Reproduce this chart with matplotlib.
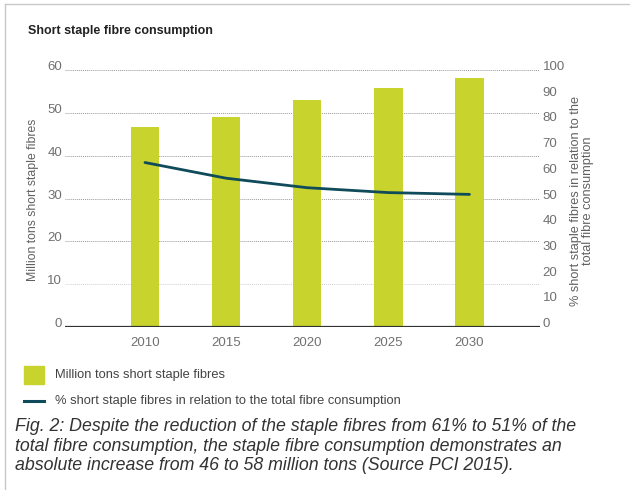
import matplotlib
matplotlib.use("Agg")
import matplotlib.pyplot as plt
from matplotlib.lines import Line2D
from matplotlib.patches import Rectangle

# Data
years = [2010, 2015, 2020, 2025, 2030]
million_tons = [46.6, 49.1, 52.9, 55.7, 58.1]
share_pct = [64.0, 57.9, 54.2, 52.3, 51.6]
left_ticks = [0, 10, 20, 30, 40, 50, 60]
right_ticks = [0, 10, 20, 30, 40, 50, 60, 70, 80, 90, 100]

bar_label = "Million tons short staple fibres"
line_label = "% short staple fibres in relation to the total fibre consumption"
title = "Short staple fibre consumption"
left_ylabel = "Million tons short staple fibres"
right_ylabel = "% short staple fibres in relation to the\ntotal fibre consumption"
caption = ("Fig. 2: Despite the reduction of the staple fibres from 61% to 51% of the\n"
           "total fibre consumption, the staple fibre consumption demonstrates an\n"
           "absolute increase from 46 to 58 million tons (Source PCI 2015).")

FONT = ["Liberation Sans", "DejaVu Sans"]

BAR_COLOR = "#c8d42d"
LINE_COLOR = "#0f4b5a"
TICK_GRAY = "#707070"
LABEL_GRAY = "#606060"
GRID_GRAY = "#9a9a9a"

W, H = 630, 490


def fx(px):
    return px / W


def fy(py):
    return 1 - py / H


fig = plt.figure(figsize=(6.3, 4.9), dpi=100)
ax = fig.add_axes([fx(65), fy(327), (540 - 65) / W, (327 - 70) / H])
ax2 = ax.twinx()

ax.set_xlim(2005.07, 2034.35)
ax.set_ylim(0, 60)
ax2.set_ylim(0, 100)

# Dotted horizontal gridlines behind the bars
for v in left_ticks[1:]:
    ax.axhline(v, color=GRID_GRAY if v > 10 else "#d0d0d0", lw=0.7,
               ls=(0, (1, 1)), zorder=0)
ax.axhline(0, color="#333333", lw=1.6, zorder=3)

ax.bar(years, million_tons, width=1.75, color=BAR_COLOR, zorder=2,
       label=bar_label)
ax2.plot(years, share_pct, color=LINE_COLOR, lw=2.0, zorder=4,
         solid_capstyle="round", label=line_label)
ax2.set_zorder(ax.get_zorder() + 1)
ax2.patch.set_visible(False)

for a in (ax, ax2):
    for s in a.spines.values():
        s.set_visible(False)
    a.tick_params(length=0, colors=TICK_GRAY)

ax.set_yticks(left_ticks)
ax2.set_yticks(right_ticks)
ax.set_xticks(years)
ax.set_xticklabels([str(y) for y in years])
ax.tick_params(axis="x", pad=7)
ax.tick_params(axis="y", pad=2)
ax2.tick_params(axis="y", pad=2)
for lab in ax.get_xticklabels():
    lab.set_family(FONT)
    lab.set_fontsize(9.5)
# y tick labels sit on their gridline
for lab in ax.get_yticklabels() + ax2.get_yticklabels():
    lab.set_family(FONT)
    lab.set_fontsize(9.5)
    lab.set_verticalalignment("baseline")

fig.text(fx(33), fy(200), left_ylabel, rotation=90, ha="center",
         va="center", color=LABEL_GRAY, fontsize=8.8, family=FONT)
fig.text(fx(582), fy(201), right_ylabel, rotation=90, ha="center",
         va="center", color=LABEL_GRAY, fontsize=9.2, family=FONT,
         multialignment="center", linespacing=1.0)

fig.text(fx(28), fy(31), title, fontsize=9, fontweight="bold",
         color="#222222", family=FONT, va="center")

# Legend drawn by hand
fig.add_artist(Rectangle((fx(24), fy(384)), 20 / W, 18 / H,
                         transform=fig.transFigure, color=BAR_COLOR))
fig.text(fx(55), fy(375), bar_label, fontsize=9.3, color="#444444",
         family=FONT, va="center")
fig.add_artist(Line2D([fx(24), fx(44)], [fy(401)] * 2,
                      transform=fig.transFigure, color=LINE_COLOR, lw=2.2))
fig.text(fx(55), fy(401), line_label, fontsize=9.3, color="#444444",
         family=FONT, va="center")

fig.text(fx(15), fy(446), caption, fontsize=12.8, style="italic",
         color="#333333", family=FONT, va="center", linespacing=1.22)

# Thin frame at top and left
fig.add_artist(Line2D([fx(5), 1], [fy(4)] * 2,
                      transform=fig.transFigure, color="#c8c8c8", lw=1))
fig.add_artist(Line2D([fx(5)] * 2, [0, fy(4)],
                      transform=fig.transFigure, color="#c8c8c8", lw=1))

fig.savefig("out.png", dpi=100)
